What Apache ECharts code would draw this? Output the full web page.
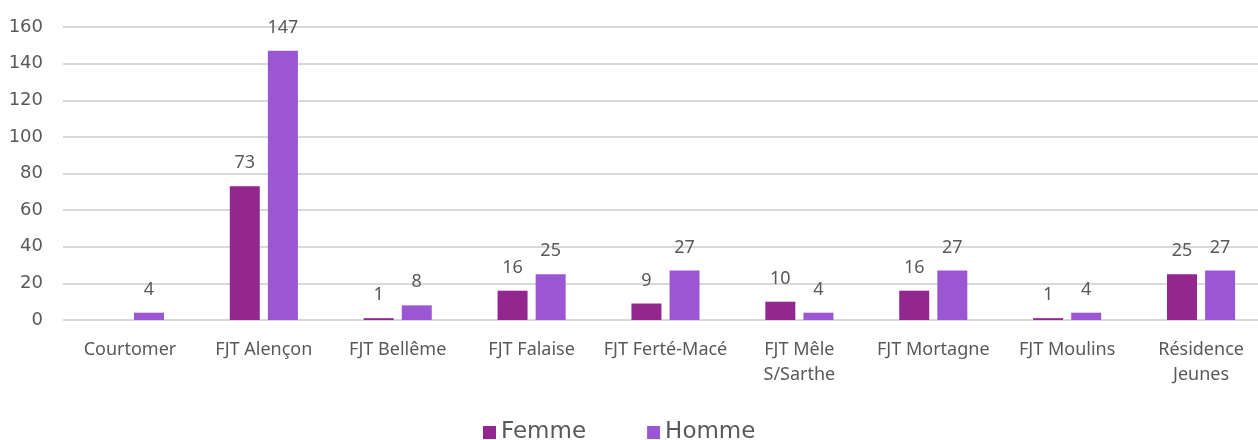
<!DOCTYPE html>
<html lang="fr" style="height: 100%;margin: 0;background-color: #ffffff;">
<head>
    <meta charset="UTF-8">
    <title>chart</title>
</head>
<body style="height: 100%;margin: 0;background-color: #ffffff;overflow: hidden;">
<div id="chart" style="width: 1268px;height: 440px;margin: 0;"></div>
<script src="https://cdn.jsdelivr.net/npm/echarts@6/dist/echarts.min.js"></script>
<script>
    var categories = ["Courtomer", "FJT Alençon", "FJT Bellême", "FJT Falaise", "FJT Ferté-Macé", "FJT Mêle\nS/Sarthe", "FJT Mortagne", "FJT Moulins", "Résidence\nJeunes"];
    var femme = [null, 73, 1, 16, 9, 10, 16, 1, 25];
    var homme = [4, 147, 8, 25, 27, 4, 27, 4, 27];
    var yTicks = {min: 0, max: 160, interval: 20};

    var myChart = echarts.init(document.getElementById("chart"), null, {renderer: 'canvas'});

    var labelStyle = {
        show: true,
        position: 'top',
        distance: 14,
        color: '#595959',
        fontSize: 18,
        fontFamily: 'Noto Sans'
    };

    var option = {
        animation: false,
        backgroundColor: '#ffffff',
        color: ['#92278f', '#9b57d3'],
        grid: {
            left: 63,
            right: 0,
            top: 27,
            bottom: 120
        },
        legend: {
            data: ['Femme', 'Homme'],
            bottom: -9,
            left: 478,
            itemWidth: 13,
            itemHeight: 13,
            itemGap: 61,
            icon: 'rect',
            textStyle: {
                fontSize: 23,
                color: '#595959',
                fontFamily: 'DejaVu Sans'
            }
        },
        xAxis: [{
            type: 'category',
            data: categories,
            axisLine: {show: false},
            axisTick: {show: false},
            axisLabel: {
                fontSize: 18,
                color: '#595959',
                fontFamily: 'Noto Sans',
                margin: 17,
                lineHeight: 25,
                interval: 0
            }
        }],
        yAxis: [{
            type: 'value',
            min: yTicks.min,
            max: yTicks.max,
            interval: yTicks.interval,
            axisLine: {show: false},
            axisTick: {show: false},
            axisLabel: {
                fontSize: 18,
                color: '#595959',
                fontFamily: 'DejaVu Sans',
                margin: 20
            },
            splitLine: {lineStyle: {color: '#d9d9d9', width: 2}}
        }],
        series: [{
            name: 'Femme',
            type: 'bar',
            data: femme,
            barWidth: 30,
            barGap: '27%',
            label: labelStyle
        }, {
            name: 'Homme',
            type: 'bar',
            data: homme,
            barWidth: 30,
            barGap: '27%',
            label: labelStyle
        }]
    };
    myChart.setOption(option, true);
</script>
</body>
</html>
